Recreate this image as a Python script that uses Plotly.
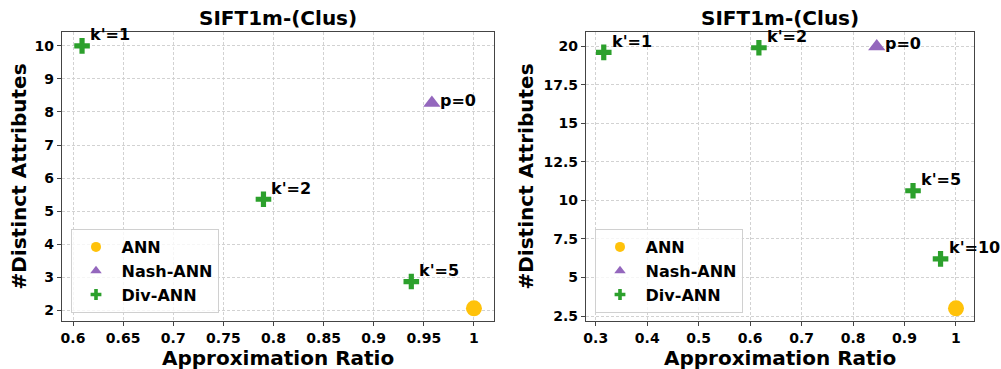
import plotly.graph_objects as go

# ---- data: left panel ----
left_ann_x = [1.0]
left_ann_y = [2.06]
left_nash_x = [0.958]
left_nash_y = [8.27]
left_nash_labels = ["p=0"]
left_div_x = [0.609, 0.790, 0.9375]
left_div_y = [10.0, 5.36, 2.87]
left_div_labels = ["k'=1", "k'=2", "k'=5"]

# ---- data: right panel ----
right_ann_x = [1.0]
right_ann_y = [3.0]
right_nash_x = [0.846]
right_nash_y = [19.97]
right_nash_labels = ["p=0"]
right_div_x = [0.3155, 0.617, 0.9165, 0.970]
right_div_y = [19.59, 19.89, 10.62, 6.2]
right_div_labels = ["k'=1", "k'=2", "k'=5", "k'=10"]

# ---- ticks ----
left_xticks = [0.6, 0.65, 0.7, 0.75, 0.8, 0.85, 0.9, 0.95, 1.0]
left_xtick_text = ["0.6", "0.65", "0.7", "0.75", "0.8", "0.85", "0.9", "0.95", "1"]
left_yticks = [2, 3, 4, 5, 6, 7, 8, 9, 10]
right_xticks = [0.3, 0.4, 0.5, 0.6, 0.7, 0.8, 0.9, 1.0]
right_xtick_text = ["0.3", "0.4", "0.5", "0.6", "0.7", "0.8", "0.9", "1"]
right_yticks = [2.5, 5, 7.5, 10, 12.5, 15, 17.5, 20]
right_ytick_text = ["2.5", "5", "7.5", "10", "12.5", "15", "17.5", "20"]

ANN_COLOR = "#FFC20A"
NASH_COLOR = "#9467BD"
DIV_COLOR = "#2CA02C"
FONT = "DejaVu Sans"
W, H = 1001, 369
GAP = "\u00a0"

fig = go.Figure()


def add_panel(xa, ya, ann_x, ann_y, nash_x, nash_y, div_x, div_y, legend):
    fig.add_trace(go.Scatter(x=ann_x, y=ann_y, mode="markers", xaxis=xa, yaxis=ya,
                             marker=dict(symbol="circle", size=16, color=ANN_COLOR),
                             showlegend=False, hoverinfo="x+y"))
    fig.add_trace(go.Scatter(x=nash_x, y=nash_y, mode="markers", xaxis=xa, yaxis=ya,
                             marker=dict(symbol="triangle-up", size=15, color=NASH_COLOR),
                             showlegend=False, hoverinfo="x+y"))
    fig.add_trace(go.Scatter(x=div_x, y=div_y, mode="markers", xaxis=xa, yaxis=ya,
                             marker=dict(symbol="cross", size=13, color=DIV_COLOR),
                             showlegend=False, hoverinfo="x+y"))
    # legend entries with small symbols
    for name, sym, col, sz in [("ANN", "circle", ANN_COLOR, 10),
                               ("Nash-ANN", "triangle-up", NASH_COLOR, 10),
                               ("Div-ANN", "cross", DIV_COLOR, 9)]:
        fig.add_trace(go.Scatter(x=[None], y=[None], mode="markers", name=GAP + name,
                                 xaxis=xa, yaxis=ya, legend=legend,
                                 marker=dict(symbol=sym, size=sz, color=col)))


add_panel("x", "y", left_ann_x, left_ann_y, left_nash_x, left_nash_y,
          left_div_x, left_div_y, "legend")
add_panel("x2", "y2", right_ann_x, right_ann_y, right_nash_x, right_nash_y,
          right_div_x, right_div_y, "legend2")

tick_font = dict(family=FONT, size=14, color="black", weight="bold")
axis_common = dict(showline=True, linecolor="#444444", linewidth=1.3, mirror=True,
                   ticks="outside", ticklen=4, tickcolor="#444444", tickwidth=1,
                   showgrid=True, gridcolor="#d2d2d2", gridwidth=0.8, griddash="3px,2px",
                   zeroline=False, tickfont=tick_font, automargin=False)

left_dom = [62 / W, 494 / W]
right_dom = [586 / W, 974 / W]
ydom = [1 - 321 / H, 1 - 32 / H]

fig.update_layout(
    width=W, height=H, margin=dict(l=0, r=0, t=0, b=0),
    paper_bgcolor="white", plot_bgcolor="white",
    xaxis=dict(domain=left_dom, range=[0.589, 1.02], tickvals=left_xticks,
               ticktext=left_xtick_text, anchor="y", **axis_common),
    yaxis=dict(domain=ydom, range=[1.676, 10.42], tickvals=left_yticks,
               anchor="x", **axis_common),
    xaxis2=dict(domain=right_dom, range=[0.281, 1.035], tickvals=right_xticks,
                ticktext=right_xtick_text, anchor="y2", **axis_common),
    yaxis2=dict(domain=ydom, range=[2.176, 20.91], tickvals=right_yticks,
                ticktext=right_ytick_text, anchor="x2", **axis_common),
)

legend_common = dict(font=dict(family=FONT, size=16, color="black", weight="bold"),
                     bgcolor="rgba(255,255,255,0.8)", bordercolor="#d0d0d0", borderwidth=1,
                     xanchor="left", yanchor="bottom", itemsizing="trace",
                     tracegroupgap=0, indentation=4)
fig.update_layout(
    legend=dict(x=71 / W, y=1 - 313 / H, **legend_common),
    legend2=dict(x=595 / W, y=1 - 313 / H, **legend_common),
)

label_font = dict(family=FONT, size=16, color="black", weight="bold")


def add_labels(xs, ys, labels, xref, yref, yshift):
    for x, y, t in zip(xs, ys, labels):
        fig.add_annotation(x=x, y=y, xref=xref, yref=yref, text=t, showarrow=False,
                           xanchor="left", yanchor="middle", xshift=6, yshift=yshift,
                           font=label_font)


add_labels(left_div_x, left_div_y, left_div_labels, "x", "y", 11)
add_labels(left_nash_x, left_nash_y, left_nash_labels, "x", "y", 3)
add_labels(right_div_x, right_div_y, right_div_labels, "x2", "y2", 11)
add_labels(right_nash_x, right_nash_y, right_nash_labels, "x2", "y2", 3)

title_font = dict(family=FONT, size=20, color="black", weight="bold")
for dom in (left_dom, right_dom):
    cx = (dom[0] + dom[1]) / 2
    fig.add_annotation(text="SIFT1m-(Clus)", x=cx, y=1 - 18 / H, xref="paper", yref="paper",
                       showarrow=False, xanchor="center", yanchor="middle", font=title_font)
    fig.add_annotation(text="Approximation Ratio", x=cx, y=1 - 358 / H, xref="paper",
                       yref="paper", showarrow=False, xanchor="center", yanchor="middle",
                       font=title_font)

ymid = 1 - 176.5 / H
for xpix in (18, 525):
    fig.add_annotation(text="#Distinct Attributes", x=xpix / W, y=ymid, xref="paper",
                       yref="paper", showarrow=False, textangle=-90, xanchor="center",
                       yanchor="middle", font=title_font)

fig.write_html("out.html")
